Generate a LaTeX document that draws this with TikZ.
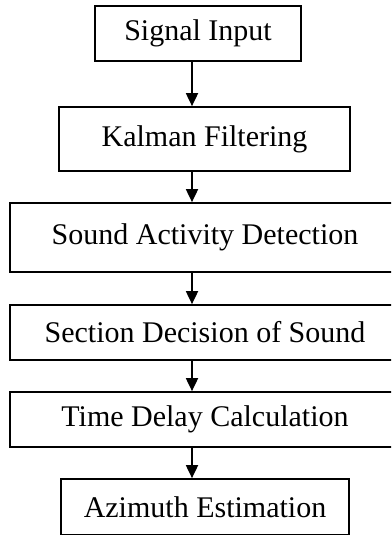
\documentclass[tikz,border=0pt]{standalone}
\usepackage{fontspec}
\setmainfont{Liberation Serif}
\usetikzlibrary{arrows.meta,positioning}

\begin{document}
\begin{tikzpicture}[
  x=1pt, y=1pt,
  >={Triangle[length=13pt,width=12pt]},
  stage/.style={draw, line width=1.7pt, inner sep=0pt, font=\fontsize{30}{35}\selectfont},
  wide/.style={stage, minimum width=420pt, minimum height=55pt},
  flow/.style={->, line width=1.8pt}
]
\clip (0,0) rectangle (391,-535);
\coordinate (axis) at (192,0);
\node[stage, minimum width=206pt, minimum height=55pt] (sig) at (198,-33.5) {Signal Input};
\node[stage, minimum width=291pt, minimum height=64pt] (kal) at (204.5,-139) {Kalman Filtering};
\node[wide, minimum height=69pt] (sad) at (220,-237.5) {\hspace*{-30pt}Sound Activity Detection};
\node[wide] (sec) at (220,-332.5) {\hspace*{-30pt}Section Decision of Sound};
\node[wide] (tdc) at (220,-419.5) {\hspace*{-30pt}Time Delay Calculation};
\node[stage, minimum width=288pt, minimum height=56pt] (azi) at (205,-507) {Azimuth Estimation};
\draw[flow] (sig.south -| axis) -- (kal.north -| axis);
\draw[flow] (kal.south -| axis) -- (sad.north -| axis);
\draw[flow] (sad.south -| axis) -- (sec.north -| axis);
\draw[flow] (sec.south -| axis) -- (tdc.north -| axis);
\draw[flow] (tdc.south -| axis) -- (azi.north -| axis);
\end{tikzpicture}
\end{document}
